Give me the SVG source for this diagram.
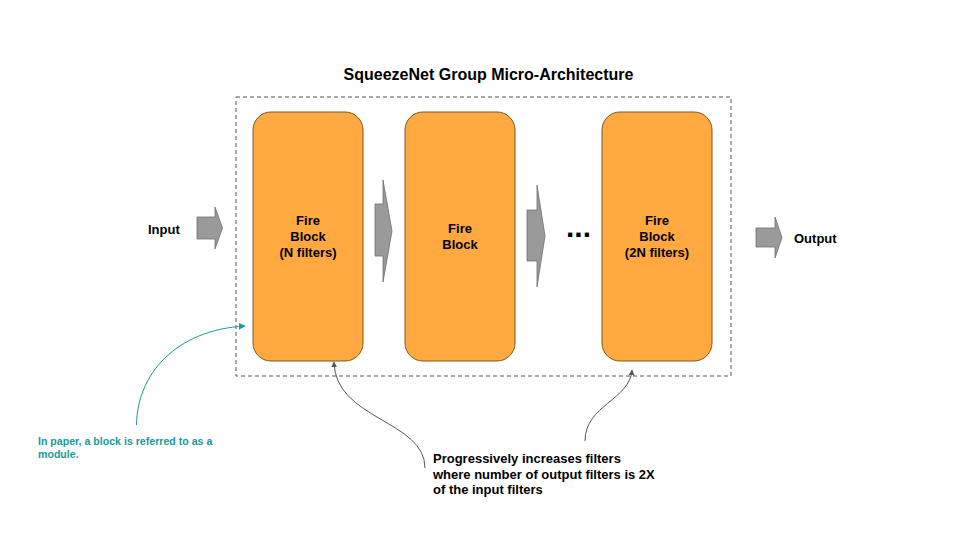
<svg xmlns="http://www.w3.org/2000/svg" width="960" height="540" viewBox="0 0 960 540">
  <style>
    .t { font-family: "Liberation Sans", Arial, sans-serif; font-weight: bold; fill: #000; }
    .blk { fill: #FFA940; stroke: #7a5a1e; stroke-width: 1; }
    .bt { font-family: "Liberation Sans", Arial, sans-serif; font-weight: bold; font-size: 13px; fill: #000; text-anchor: middle; }
    .arr { fill: #9a9a9a; stroke: #6f6f6f; stroke-width: 0.8; }
    .teal { font-family: "Liberation Sans", Arial, sans-serif; font-weight: bold; font-size: 10.6px; fill: #1a9a9a; }
    .gline { fill: none; stroke: #555; stroke-width: 1; }
  </style>
  <defs>
    <marker id="mg" viewBox="0 0 10 10" refX="9" refY="5" markerWidth="6" markerHeight="6" orient="auto" markerUnits="userSpaceOnUse">
      <path d="M0,0 L10,5 L0,10 z" fill="#555"/>
    </marker>
    <marker id="mt" viewBox="0 0 10 10" refX="9" refY="5" markerWidth="7" markerHeight="7" orient="auto" markerUnits="userSpaceOnUse">
      <path d="M0,0 L10,5 L0,10 z" fill="#1a9a9a"/>
    </marker>
  </defs>
  <rect width="960" height="540" fill="#fff"/>

  <text class="t" x="488.5" y="80" font-size="16" text-anchor="middle">SqueezeNet Group Micro-Architecture</text>

  <g id="group">
    <rect x="236" y="97" width="495" height="279" fill="none" stroke="#555" stroke-width="1" stroke-dasharray="4,3"/>
  </g>

  <g id="fire1">
    <rect class="blk" x="253" y="112" width="110" height="249" rx="18" ry="18"/>
    <text class="bt" x="308" y="225">Fire</text>
    <text class="bt" x="308" y="241">Block</text>
    <text class="bt" x="308" y="257">(N filters)</text>
  </g>
  <g id="fire2">
    <rect class="blk" x="405" y="112" width="110" height="249" rx="18" ry="18"/>
    <text class="bt" x="460" y="233">Fire</text>
    <text class="bt" x="460" y="249">Block</text>
  </g>
  <g id="fire3">
    <rect class="blk" x="602" y="112" width="110" height="249" rx="18" ry="18"/>
    <text class="bt" x="657" y="225">Fire</text>
    <text class="bt" x="657" y="241">Block</text>
    <text class="bt" x="657" y="257">(2N filters)</text>
  </g>

  <g id="input">
    <text class="t" x="148" y="234" font-size="13">Input</text>
  </g>
  <g id="output">
    <text class="t" x="794" y="243" font-size="13">Output</text>
  </g>
  <g id="dots">
    <text class="t" x="566" y="237" font-size="30">...</text>
  </g>

  <g id="connectors">
    <path class="arr" d="M197,217 L215,217 L215,207 L222.5,228 L215,249 L215,239 L197,239 z"/>
    <path class="arr" d="M375,204 L383,204 L383,180 L392,231 L383,282 L383,256 L375,256 z"/>
    <path class="arr" d="M527,210 L537,210 L537,185 L545,236 L537,287 L537,261 L527,261 z"/>
    <path class="arr" d="M756,228 L775,228 L775,217 L782,237.5 L775,258 L775,247 L756,247 z"/>
    <path d="M136.5,425 C137,375 175,330 245,326" fill="none" stroke="#1a9a9a" stroke-width="1" marker-end="url(#mt)"/>
    <path class="gline" d="M425,468 C425,420 335,420 334,362" marker-end="url(#mg)"/>
    <path class="gline" d="M585,441 C585,405 630,400 632,370" marker-end="url(#mg)"/>
  </g>

  <g id="note-module">
    <text class="teal" x="38" y="445">In paper, a block is referred to as a</text>
    <text class="teal" x="38" y="458">module.</text>
  </g>
  <g id="note-filters">
    <text class="t" x="433" y="463" font-size="13">Progressively increases filters</text>
    <text class="t" x="433" y="478.5" font-size="13">where number of output filters is 2X</text>
    <text class="t" x="433" y="494" font-size="13">of the input filters</text>
  </g>
</svg>
